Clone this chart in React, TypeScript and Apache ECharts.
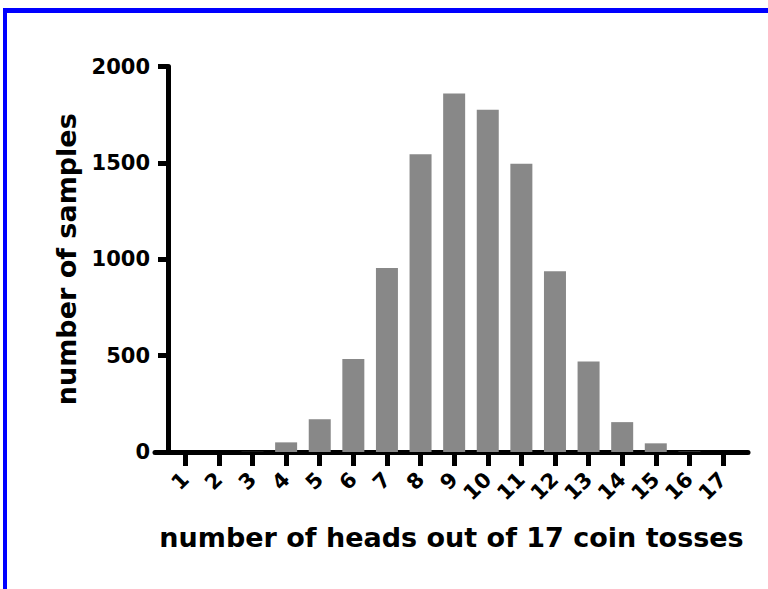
import React, { useEffect, useRef } from "react";
import * as echarts from "echarts";

const categories = [1, 2, 3, 4, 5, 6, 7, 8, 9, 10, 11, 12, 13, 14, 15, 16, 17];
const sampleCounts = [0, 0, 1, 50, 170, 482, 955, 1545, 1860, 1775, 1495, 938, 470, 155, 45, 2, 0];
const yTicks = [0, 500, 1000, 1500, 2000];
const xTitle = "number of heads out of 17 coin tosses";
const yTitle = "number of samples";

export default function App() {
  const ref = useRef<HTMLDivElement>(null);
  useEffect(() => {
    if (!ref.current) return;
    const chart = echarts.init(ref.current, null, { renderer: "svg" });
    const font = "DejaVu Sans";
    chart.setOption({
      animation: false,
      backgroundColor: "#ffffff",
      grid: { left: 155, right: 20, top: 66.5, bottom: 137, containLabel: false },
      graphic: [
        { type: "rect", shape: { x: 3, y: 8, width: 765, height: 5 }, style: { fill: "#0000ff" } },
        { type: "rect", shape: { x: 3, y: 8, width: 4, height: 581 }, style: { fill: "#0000ff" } },
      ],
      xAxis: {
        type: "value",
        min: 0.098,
        max: 17.744,
        splitLine: { show: false },
        axisLine: { onZero: false, lineStyle: { color: "#000", width: 5 } },
        axisTick: { show: true, customValues: categories, length: 14, lineStyle: { color: "#000", width: 5 } },
        axisLabel: {
          customValues: categories,
          rotate: 45,
          margin: 24,
          color: "#000",
          fontFamily: font,
          fontWeight: "bold",
          fontSize: 21,
          formatter: (v: number) => String(v),
        },
        name: xTitle,
        nameLocation: "middle",
        nameGap: 72,
        nameTextStyle: { color: "#000", fontFamily: font, fontWeight: "bold", fontSize: 27 },
      },
      yAxis: {
        type: "value",
        min: 0,
        max: 2000,
        interval: 500,
        offset: -13,
        splitLine: { show: false },
        axisLine: { show: true, onZero: false, lineStyle: { color: "#000", width: 5 } },
        axisTick: { show: true, length: 10, lineStyle: { color: "#000", width: 5 } },
        axisLabel: {
          customValues: yTicks,
          margin: 18,
          color: "#000",
          fontFamily: font,
          fontWeight: "bold",
          fontSize: 21,
          formatter: (v: number) => String(v),
        },
        name: yTitle,
        nameLocation: "middle",
        nameGap: 88,
        nameTextStyle: { color: "#000", fontFamily: font, fontWeight: "bold", fontSize: 27 },
      },
      series: [
        {
          type: "bar",
          data: categories.map((c, i) => [c, sampleCounts[i]]),
          barWidth: 22,
          itemStyle: { color: "#888888" },
          z: 1,
        },
      ],
    });
    return () => chart.dispose();
  }, []);
  return (
    <div
      ref={ref}
      style={{ position: "fixed", left: 0, top: 0, width: 768, height: 589, background: "#fff" }}
    />
  );
}
